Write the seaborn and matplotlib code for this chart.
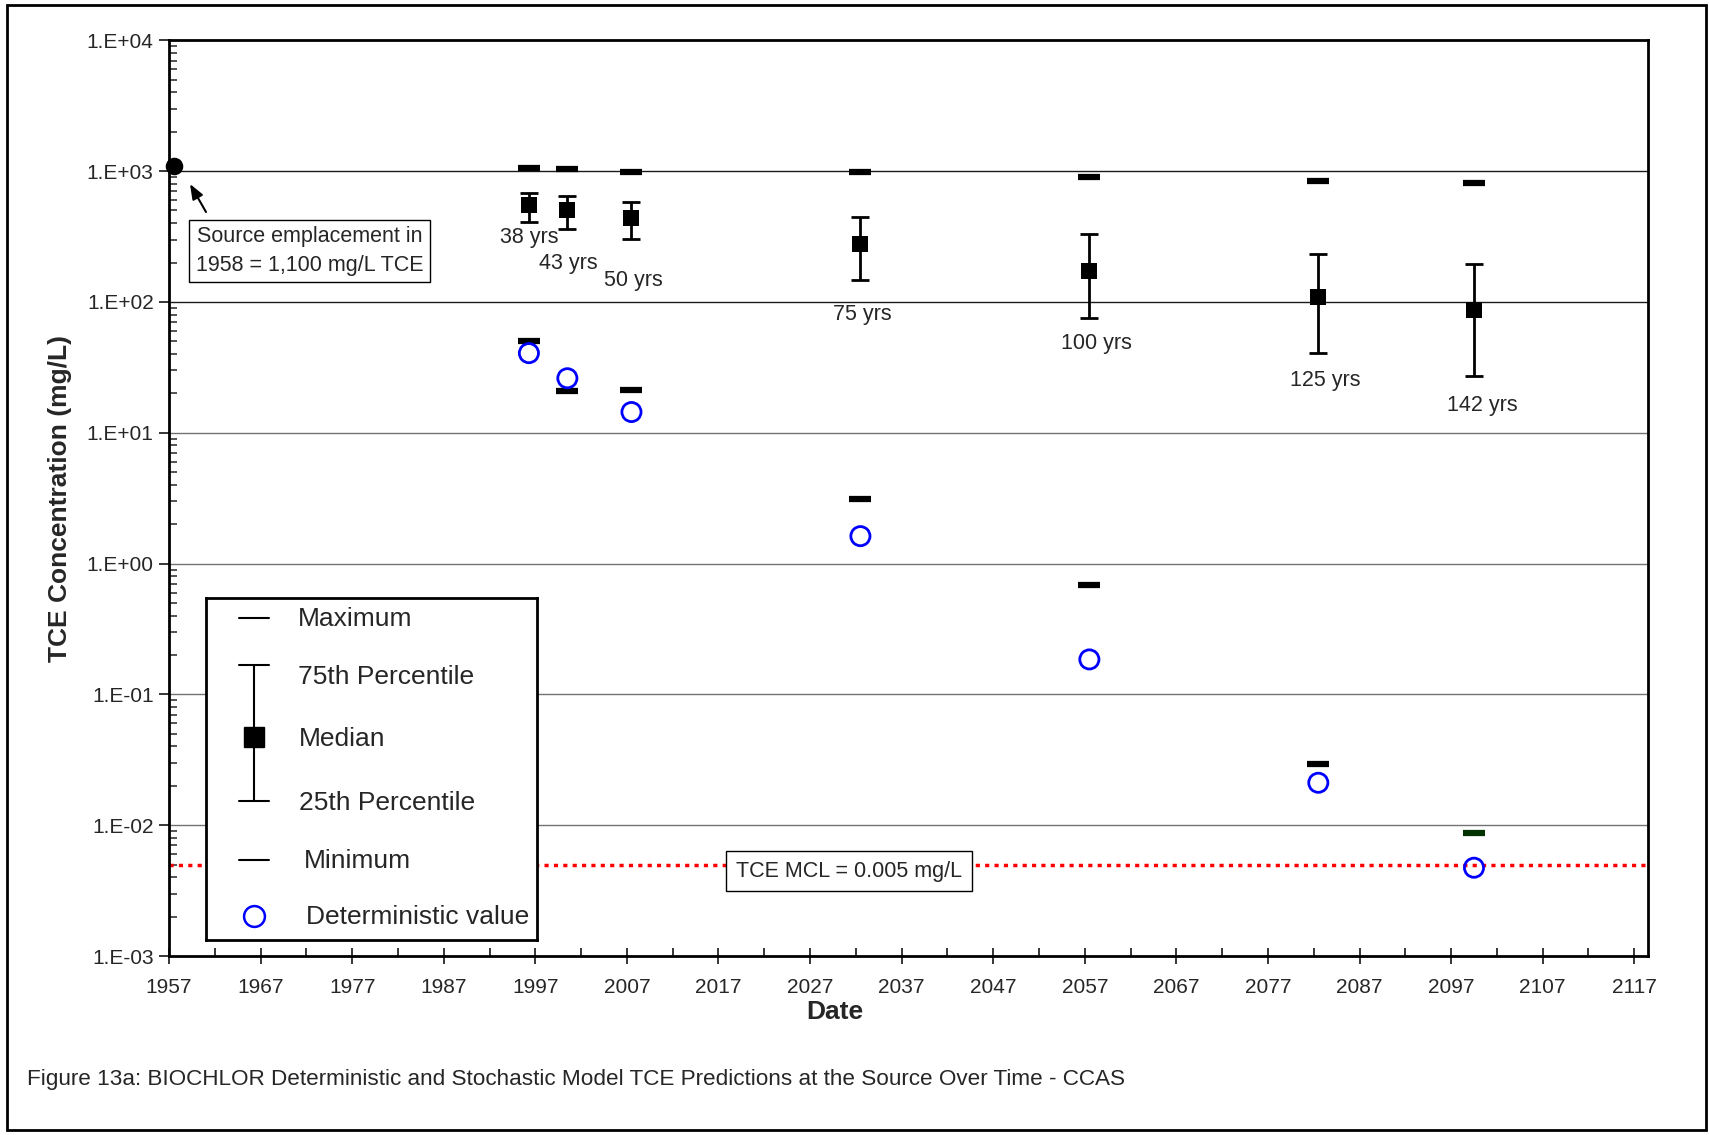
import numpy as np
import pandas as pd
import seaborn as sns
import matplotlib
matplotlib.use("Agg")
import matplotlib.pyplot as plt
from matplotlib.patches import Rectangle
from matplotlib.ticker import FixedLocator, FuncFormatter, LogLocator, NullFormatter

# data
years = [1996.3, 2000.5, 2007.5, 2032.5, 2057.5, 2082.5, 2099.5]
age_labels = ['38 yrs', '43 yrs', '50 yrs', '75 yrs', '100 yrs', '125 yrs', '142 yrs']
maximum = [1059, 1040, 990, 977, 909, 841, 810]
p75 = [681, 643, 584, 447, 328, 233, 196]
median = [552, 501, 438, 277, 171, 110, 87]
p25 = [406, 362, 304, 147, 76, 41, 27]
minimum = [50, 20.7, 21.1, 3.1, 0.68, 0.0293, 0.00875]
deterministic = [40.6, 26.1, 14.4, 1.62, 0.185, 0.0211, 0.00473]
min_colors = ['black'] * 6 + ['#003300']
source_year = 1957.5
source_conc = 1100
mcl = 0.005
label_y = [310, 198, 146, 80, 48.5, 25.3, 16.2]
label_x = [1996.3, 2000.6, 2007.7, 2032.7, 2058.3, 2083.3, 2100.4]

df = pd.DataFrame({'year': years, 'max': maximum, 'p75': p75, 'med': median,
                   'p25': p25, 'min': minimum, 'det': deterministic})

sns.set_style('white')
plt.rcParams['font.family'] = ['Liberation Sans', 'DejaVu Sans']

W, H = 1709, 1135
fig = plt.figure(figsize=(W / 100, H / 100), dpi=100)
L, R, T, B = 169, 1648, 40.3, 956
ax = fig.add_axes([L / W, 1 - B / H, (R - L) / W, (B - T) / H])

def fx(px):
    return (px - L) / (R - L)

def fy(py):
    return (B - py) / (B - T)

ax.set_yscale('log')
ax.set_ylim(1e-3, 1e4)
ax.set_xlim(1957, 2118.5)

# decade gridlines: the top two are darker in the original
for lvl in [1e-2, 1e-1, 1e0, 1e1]:
    ax.axhline(lvl, color='0.45', lw=1, zorder=1)
for lvl in [1e2, 1e3]:
    ax.axhline(lvl, color='0.1', lw=1, zorder=1)

# MCL line
ax.axhline(mcl, color='red', lw=2.5, ls=(0, (1.2, 1.5)), zorder=2)

# whiskers
ax.errorbar(df['year'], df['med'], yerr=[df['med'] - df['p25'], df['p75'] - df['med']],
            fmt='none', ecolor='black', elinewidth=2, capsize=6.3, capthick=2, zorder=3)
sns.scatterplot(data=df, x='year', y='med', marker='s', s=135, color='black',
                edgecolor='black', linewidth=0, ax=ax, zorder=4)
sns.scatterplot(data=df, x='year', y='max', marker='_', s=272, color='black',
                linewidth=4.5, ax=ax, zorder=4)
for yr, v, c in zip(years, minimum, min_colors):
    ax.plot(yr, v, marker='_', ms=16.5, mew=4.5, color=c, zorder=4)
sns.scatterplot(data=df, x='year', y='det', marker='o', s=190, facecolor='none',
                edgecolor='#0000ff', linewidth=2, ax=ax, zorder=5)
ax.scatter([source_year], [source_conc], s=135, color='black', zorder=6, clip_on=False)

for x, y, t in zip(label_x, label_y, age_labels):
    ax.text(x, y, t, ha='center', va='center', fontsize=15.5)

# source annotation
ax.annotate('', xy=(fx(190), fy(184)), xytext=(fx(206), fy(212)), xycoords='axes fraction',
            textcoords='axes fraction',
            arrowprops=dict(arrowstyle='-|>,head_length=0.9,head_width=0.35', color='black',
                            lw=1.5, shrinkA=0, shrinkB=0))
ax.text(fx(309.5), fy(251), 'Source emplacement in\n1958 = 1,100 mg/L TCE', transform=ax.transAxes,
        ha='center', va='center', fontsize=15.5, linespacing=1.45,
        bbox=dict(boxstyle='square,pad=0.3', fc='white', ec='black', lw=1))
ax.text(fx(849), fy(871), 'TCE MCL = 0.005 mg/L', transform=ax.transAxes, ha='center', va='center',
        fontsize=15.5, bbox=dict(boxstyle='square,pad=0.45', fc='white', ec='black', lw=1), zorder=6)

# axes styling
for s in ax.spines.values():
    s.set_visible(True)
    s.set_linewidth(2)
    s.set_color('black')
ax.xaxis.set_major_locator(FixedLocator(np.arange(1957, 2118, 10)))
ax.xaxis.set_minor_locator(FixedLocator(np.arange(1962, 2118, 10)))
ax.yaxis.set_major_locator(LogLocator(base=10, numticks=20))
ax.yaxis.set_minor_locator(LogLocator(base=10, subs=np.arange(2, 10), numticks=20))
ax.yaxis.set_minor_formatter(NullFormatter())
ax.yaxis.set_major_formatter(FuncFormatter(lambda v, p: '1.E%+03d' % int(round(np.log10(v)))))
ax.tick_params(axis='x', which='major', direction='inout', length=11, width=1.3, labelsize=15, pad=10)
ax.tick_params(axis='x', which='minor', direction='in', length=6, width=1.3)
ax.tick_params(axis='y', which='major', direction='out', length=7, width=1.3, labelsize=15, pad=4)
ax.tick_params(axis='y', which='minor', direction='in', length=6, width=1.1)
ax.tick_params(left=True, bottom=True, which='both')

ax.set_xlabel('Date', fontsize=19, fontweight='bold', va='center')
ax.xaxis.set_label_coords(0.45, fy(1012))
ax.set_ylabel('TCE Concentration (mg/L)', fontsize=19, fontweight='bold', va='center')
ax.yaxis.set_label_coords(fx(60), 0.5)

# legend box drawn by hand
lx0, ly0, lw_, lh_ = 206, 598, 331, 342
lax = fig.add_axes([lx0 / W, 1 - (ly0 + lh_) / H, lw_ / W, lh_ / H])
lax.set_xlim(0, lw_)
lax.set_ylim(lh_, 0)
lax.set_xticks([])
lax.set_yticks([])
for s in lax.spines.values():
    s.set_visible(True)
    s.set_linewidth(2)
    s.set_color('black')
lax.set_facecolor('white')
lax.plot([33, 63], [20, 20], color='black', lw=1.5)
lax.plot([48, 48], [67, 203], color='black', lw=1.5)
lax.plot([33, 63], [67, 67], color='black', lw=1.5)
lax.plot([33, 63], [203, 203], color='black', lw=1.5)
lax.plot([48], [139], marker='s', ms=14, color='black')
lax.plot([33, 63], [262, 262], color='black', lw=1.5)
lax.plot([48], [318], marker='o', ms=15, mfc='none', mec='#0000ff', mew=1.8)
leg_text = [('Maximum', 92, 21), ('75th Percentile', 92, 79), ('Median', 93, 141),
            ('25th Percentile', 93, 205), ('Minimum', 98, 263), ('Deterministic value', 100, 319)]
for t, x, y in leg_text:
    lax.text(x, y, t, fontsize=19, va='center', ha='left')

fig.text(27 / W, 1 - 1079 / H,
         'Figure 13a: BIOCHLOR Deterministic and Stochastic Model TCE Predictions at the Source Over Time - CCAS',
         fontsize=16.2, va='center', ha='left')
fig.patches.append(Rectangle((6.5 / W, 5 / H), (1706 - 6.5) / W, (1130 - 5) / H,
                             transform=fig.transFigure, fill=False, lw=2, ec='black'))

fig.savefig('out.png', dpi=100)
